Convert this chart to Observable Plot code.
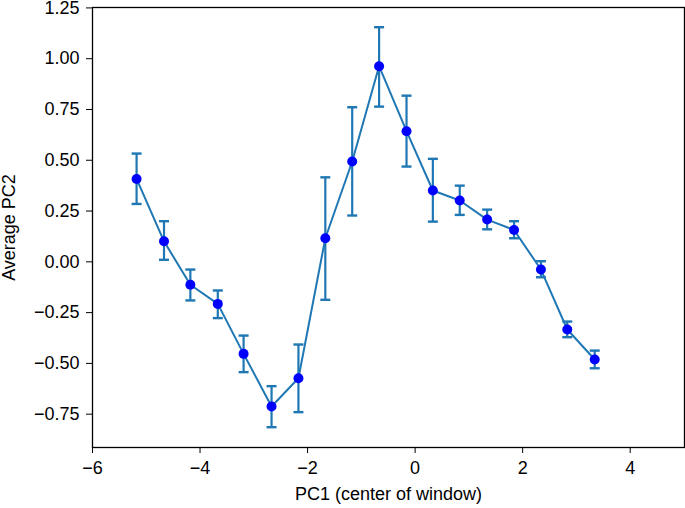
<!DOCTYPE html>
<html>
<head>
<meta charset="utf-8">
<script src="https://cdn.jsdelivr.net/npm/d3@7"></script>
<script src="https://cdn.jsdelivr.net/npm/@observablehq/plot@0.6"></script>
<style>
  html, body { margin: 0; padding: 0; background: #fff; }
  #chart svg { display: block; }
</style>
</head>
<body>
<div id="chart"></div>
<script>
// PC1 window centers
const pc1 = [-5.18, -4.67, -4.18, -3.67, -3.19, -2.67, -2.17, -1.67, -1.17, -0.67, -0.16, 0.33, 0.83, 1.34, 1.84, 2.34, 2.83, 3.34];
// Average PC2
const avgPC2 = [0.408, 0.101, -0.113, -0.207, -0.453, -0.712, -0.573, 0.116, 0.494, 0.963, 0.643, 0.351, 0.302, 0.208, 0.157, -0.038, -0.333, -0.481];
// error bar ends
const errHigh = [0.533, 0.200, -0.038, -0.141, -0.363, -0.612, -0.407, 0.416, 0.761, 1.155, 0.818, 0.507, 0.375, 0.257, 0.200, 0.003, -0.294, -0.437];
const errLow = [0.285, 0.010, -0.190, -0.277, -0.543, -0.814, -0.740, -0.187, 0.228, 0.764, 0.469, 0.198, 0.231, 0.160, 0.116, -0.076, -0.371, -0.524];
const xTicks = [-6, -4, -2, 0, 2, 4];
const yTicks = [-0.75, -0.5, -0.25, 0, 0.25, 0.5, 0.75, 1.0, 1.25];

const data = pc1.map((x, i) => ({x, y: avgPC2[i], hi: errHigh[i], lo: errLow[i]}));

const capSymbol = {
  draw(context, size) {
    const r = Math.sqrt(size / Math.PI);
    context.moveTo(-r, 0);
    context.lineTo(r, 0);
  }
};

const lineColor = "#1f77b4";
const font = "'Liberation Sans', Arial, Helvetica, sans-serif";

const chart = Plot.plot({
  width: 685,
  height: 508,
  marginLeft: 92,
  marginRight: 1,
  marginTop: 7,
  marginBottom: 61,
  style: {fontFamily: font, fontSize: "18px", color: "black", background: "white"},
  x: {domain: [-6, 5.01]},
  y: {domain: [-0.914, 1.252]},
  marks: [
    Plot.axisX({ticks: xTicks, tickSize: 6, tickPadding: 8, tickFormat: d3.format("d"), fontSize: 18,
      label: "PC1 (center of window)", labelAnchor: "center", labelArrow: "none", labelOffset: 52, stroke: "black", strokeWidth: 1}),
    Plot.axisY({ticks: yTicks, tickSize: 6, tickPadding: 7, tickFormat: d3.format(".2f"), fontSize: 18,
      label: "Average PC2", labelAnchor: "center", labelArrow: "none", labelOffset: 90, stroke: "black", strokeWidth: 1}),
    Plot.line(data, {x: "x", y: "y", stroke: lineColor, strokeWidth: 2}),
    Plot.ruleX(data, {x: "x", y1: "lo", y2: "hi", stroke: lineColor, strokeWidth: 2.2}),
    Plot.dot(data, {x: "x", y: "hi", symbol: capSymbol, r: 5, stroke: lineColor, strokeWidth: 2.4}),
    Plot.dot(data, {x: "x", y: "lo", symbol: capSymbol, r: 5, stroke: lineColor, strokeWidth: 2.4}),
    Plot.dot(data, {x: "x", y: "y", r: 5, fill: "#0000ff", stroke: "none"}),
    Plot.frame({stroke: "black", strokeWidth: 1.3})
  ]
});
document.getElementById("chart").appendChild(chart);
</script>
</body>
</html>
